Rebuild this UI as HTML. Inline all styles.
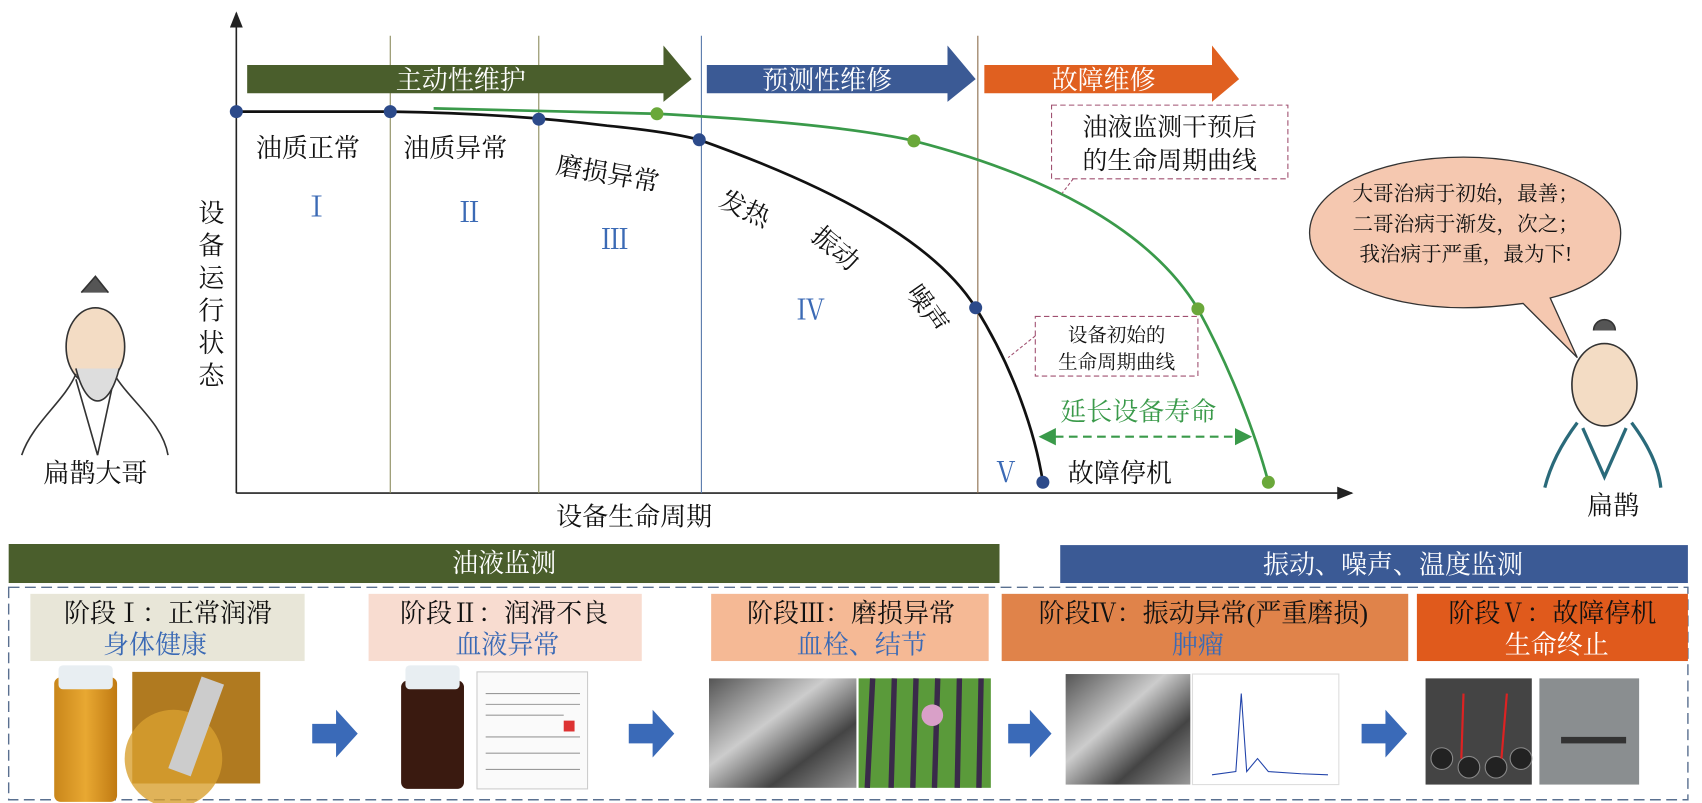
<!DOCTYPE html>
<html><head><meta charset="utf-8"><style>
html,body{margin:0;padding:0;background:#fff}
svg{display:block}
text{font-family:"Liberation Serif","Noto Serif CJK SC","Noto Sans CJK SC",serif}
</style></head><body>
<svg width="1702" height="803" viewBox="0 0 1570 741" preserveAspectRatio="none" xmlns="http://www.w3.org/2000/svg">
<defs>
<marker id="ah" markerWidth="10" markerHeight="8" refX="9" refY="4" orient="auto"><path d="M0,0 L10,4 L0,8 z" fill="#222"/></marker>
<marker id="ga" markerWidth="8" markerHeight="8" refX="7" refY="4" orient="auto"><path d="M0,0 L8,4 L0,8 z" fill="#3a9a4a"/></marker>
<marker id="gb" markerWidth="8" markerHeight="8" refX="1" refY="4" orient="auto"><path d="M8,0 L0,4 L8,8 z" fill="#3a9a4a"/></marker>
<linearGradient id="oil" x1="0" x2="1"><stop offset="0" stop-color="#c9861a"/><stop offset="0.5" stop-color="#e8a832"/><stop offset="1" stop-color="#c07a12"/></linearGradient>
<linearGradient id="metal" x1="0" x2="1" y1="0" y2="1"><stop offset="0" stop-color="#555"/><stop offset="0.4" stop-color="#ccc"/><stop offset="0.7" stop-color="#444"/><stop offset="1" stop-color="#999"/></linearGradient>
</defs>
<!-- axes -->
<line x1="218" y1="455" x2="218" y2="12" stroke="#222" stroke-width="1.5" marker-end="url(#ah)"/>
<line x1="218" y1="455" x2="1247" y2="455" stroke="#222" stroke-width="1.5" marker-end="url(#ah)"/>
<g stroke="#8a8a5a" stroke-width="1"><line x1="360" y1="33" x2="360" y2="455"/><line x1="497" y1="33" x2="497" y2="455"/></g>
<line x1="647" y1="33" x2="647" y2="455" stroke="#5577aa" stroke-width="1"/>
<line x1="902" y1="33" x2="902" y2="455" stroke="#8a6a4a" stroke-width="1"/>
<!-- top arrows -->
<path d="M228,60 H612 V42 L638,73 L612,94 V86 H228 Z" fill="#4a5e2c"/>
<path d="M652,60 H874 V42 L900,73 L874,94 V86 H652 Z" fill="#3b5a95"/>
<path d="M908,60 H1118 V42 L1143,73 L1118,94 V86 H908 Z" fill="#e06020"/>
<g fill="#fff" font-size="24" text-anchor="middle"><text x="425" y="82">主动性维护</text><text x="763" y="82">预测性维修</text><text x="1018" y="82">故障维修</text></g>
<!-- curves -->
<path d="M218,103 L360,103 C430,104 497,108 560,116 C600,120 630,125 645,129 C760,170 860,220 900,284 C935,340 955,400 962,445" fill="none" stroke="#111" stroke-width="2.5"/>
<path d="M400,100 C480,102 560,104 606,105 C700,110 790,118 843,130 C960,160 1060,210 1105,285 C1135,340 1158,400 1170,445" fill="none" stroke="#3a9a4a" stroke-width="2.5"/>
<g fill="#2c4a8a"><circle cx="218" cy="103" r="6"/><circle cx="360" cy="103" r="6"/><circle cx="497" cy="110" r="6"/><circle cx="645" cy="129" r="6"/><circle cx="900" cy="284" r="6"/><circle cx="962" cy="445" r="6"/></g>
<g fill="#6aa83a"><circle cx="606" cy="105" r="6"/><circle cx="843" cy="130" r="6"/><circle cx="1105" cy="285" r="6"/><circle cx="1170" cy="445" r="6"/></g>
<!-- labels in chart -->
<g font-size="24" fill="#111"><text x="236" y="145">油质正常</text><text x="372" y="145">油质异常</text><text transform="translate(512,160) rotate(10)">磨损异常</text>
<text transform="translate(662,190) rotate(25)">发热</text><text transform="translate(747,220) rotate(40)">振动</text><text transform="translate(835,270) rotate(55)">噪声</text>
<text x="985" y="445">故障停机</text></g>
<g font-size="26" fill="#3b6ab5" text-anchor="middle"><text x="292" y="200">Ⅰ</text><text x="433" y="205">Ⅱ</text><text x="567" y="230">Ⅲ</text><text x="748" y="295">Ⅳ</text><text x="928" y="445">Ⅴ</text></g>
<g font-size="24" fill="#111" text-anchor="middle"><text x="195" y="205">设</text><text x="195" y="235">备</text><text x="195" y="265">运</text><text x="195" y="295">行</text><text x="195" y="325">状</text><text x="195" y="355">态</text></g>
<text x="585" y="485" font-size="24" text-anchor="middle" fill="#111">设备生命周期</text>
<!-- callouts -->
<rect x="970" y="97" width="218" height="68" fill="#fff" stroke="#a05070" stroke-dasharray="5,3"/>
<path d="M990,165 L980,178" stroke="#a05070" stroke-dasharray="3,2"/>
<text x="1079" y="125" font-size="23" text-anchor="middle" fill="#111">油液监测干预后</text><text x="1079" y="156" font-size="23" text-anchor="middle" fill="#111">的生命周期曲线</text>
<rect x="955" y="292" width="150" height="55" fill="#fff" stroke="#a05070" stroke-dasharray="5,3"/>
<path d="M955,310 L930,330" stroke="#a05070" stroke-dasharray="3,2"/>
<text x="1030" y="315" font-size="18" text-anchor="middle" fill="#111">设备初始的</text><text x="1030" y="340" font-size="18" text-anchor="middle" fill="#111">生命周期曲线</text>
<text x="1050" y="388" font-size="24" text-anchor="middle" fill="#3a9a4a">延长设备寿命</text>
<line x1="960" y1="403" x2="1153" y2="403" stroke="#3a9a4a" stroke-width="2" stroke-dasharray="8,5" marker-end="url(#ga)" marker-start="url(#gb)"/>
<!-- speech bubble -->
<path d="M1350,145 C1430,145 1495,175 1495,215 C1495,245 1470,265 1430,275 L1455,330 L1405,280 C1390,282 1370,284 1350,284 C1270,284 1208,253 1208,215 C1208,175 1270,145 1350,145 Z" fill="#f5c8b0" stroke="#333" stroke-width="1.2"/>
<g font-size="19" fill="#111" text-anchor="middle"><text x="1352" y="185">大哥治病于初始，最善；</text><text x="1352" y="213">二哥治病于渐发，次之；</text><text x="1352" y="241">我治病于严重，最为下!</text></g>
<!-- figures -->
<g stroke="#333" stroke-width="1.5" fill="none">
<ellipse cx="88" cy="320" rx="27" ry="36" fill="#f3dcc4"/><path d="M75,270 L88,255 L100,270" fill="#555"/>
<path d="M70,345 C60,370 30,390 20,420 M105,345 C120,370 150,390 155,420 M70,350 L90,420 L105,350" />
<path d="M70,340 C80,380 100,380 110,340" fill="#ddd"/>
<ellipse cx="1480" cy="355" rx="30" ry="38" fill="#f3dcc4"/><path d="M1470,305 a10,10 0 1 1 20,0" fill="#555"/>
<path d="M1455,390 C1440,410 1430,430 1425,450 M1505,390 C1520,410 1530,430 1532,450 M1460,395 L1480,440 L1500,395" stroke="#2a6a7a" stroke-width="3"/>
</g>
<text x="88" y="445" font-size="24" text-anchor="middle" fill="#111">扁鹊大哥</text>
<text x="1488" y="475" font-size="24" text-anchor="middle" fill="#111">扁鹊</text>
<!-- bottom bars -->
<rect x="8" y="502" width="914" height="36" fill="#4a5e2c"/>
<text x="465" y="528" font-size="24" fill="#fff" text-anchor="middle">油液监测</text>
<rect x="978" y="503" width="579" height="35" fill="#3b5a95"/>
<text x="1285" y="529" font-size="24" fill="#fff" text-anchor="middle">振动、噪声、温度监测</text>
<rect x="8" y="542" width="1549" height="196" fill="none" stroke="#5a7090" stroke-width="1.3" stroke-dasharray="10,5"/>
<!-- stage boxes -->
<rect x="28" y="548" width="253" height="62" fill="#e8e6d8"/>
<rect x="340" y="548" width="252" height="62" fill="#f8dcd0"/>
<rect x="656" y="548" width="256" height="62" fill="#f5b995"/>
<rect x="924" y="548" width="375" height="62" fill="#e0834a"/>
<rect x="1307" y="548" width="250" height="62" fill="#e05a1c"/>
<g font-size="24" text-anchor="middle">
<text x="155" y="574" fill="#111">阶段Ⅰ：正常润滑</text><text x="143" y="603" fill="#3b6ab5">身体健康</text>
<text x="465" y="574" fill="#111">阶段Ⅱ：润滑不良</text><text x="468" y="603" fill="#3b6ab5">血液异常</text>
<text x="785" y="574" fill="#111">阶段Ⅲ：磨损异常</text><text x="795" y="603" fill="#3b6ab5">血栓、结节</text>
<text x="1110" y="574" fill="#111">阶段Ⅳ：振动异常(严重磨损)</text><text x="1105" y="603" fill="#3b6ab5">肿瘤</text>
<text x="1432" y="574" fill="#111">阶段Ⅴ：故障停机</text><text x="1436" y="603" fill="#fff">生命终止</text>
</g>
<!-- images -->
<rect x="50" y="625" width="58" height="115" rx="6" fill="url(#oil)"/><rect x="54" y="614" width="50" height="22" rx="4" fill="#e8eef2"/>
<rect x="122" y="620" width="118" height="103" fill="#b07a20"/><circle cx="160" cy="700" r="45" fill="#d8a030" opacity="0.8"/><rect x="170" y="625" width="22" height="90" fill="#ccc" transform="rotate(20 180 670)"/>
<rect x="370" y="628" width="58" height="100" rx="6" fill="#3a1a10"/><rect x="374" y="614" width="50" height="22" rx="4" fill="#e8eef2"/>
<rect x="440" y="620" width="102" height="108" fill="#fafafa" stroke="#ccc"/>
<g stroke="#999" stroke-width="1"><line x1="448" y1="640" x2="535" y2="640"/><line x1="448" y1="650" x2="535" y2="650"/><line x1="448" y1="660" x2="520" y2="660"/><line x1="448" y1="680" x2="535" y2="680"/><line x1="448" y1="695" x2="535" y2="695"/><line x1="448" y1="710" x2="535" y2="710"/></g>
<rect x="520" y="665" width="10" height="10" fill="#d33"/>
<rect x="654" y="626" width="136" height="101" fill="url(#metal)"/>
<rect x="792" y="626" width="122" height="101" fill="#5a9a3a"/>
<g stroke="#3a2a4a" stroke-width="5"><line x1="805" y1="626" x2="800" y2="727"/><line x1="825" y1="626" x2="822" y2="727"/><line x1="845" y1="626" x2="842" y2="727"/><line x1="865" y1="626" x2="862" y2="727"/><line x1="885" y1="626" x2="883" y2="727"/><line x1="905" y1="626" x2="903" y2="727"/></g>
<circle cx="860" cy="660" r="10" fill="#d9a0c8"/>
<rect x="983" y="622" width="115" height="102" fill="url(#metal)"/>
<rect x="1100" y="622" width="135" height="102" fill="#fff" stroke="#ddd"/>
<path d="M1118,715 L1140,712 L1145,640 L1150,712 L1160,700 L1170,712 L1200,714 L1225,715" stroke="#2244aa" fill="none"/>
<rect x="1315" y="626" width="98" height="98" fill="#444"/><g fill="#222" stroke="#888"><circle cx="1330" cy="700" r="10"/><circle cx="1355" cy="708" r="10"/><circle cx="1380" cy="708" r="10"/><circle cx="1403" cy="700" r="10"/></g>
<line x1="1350" y1="640" x2="1348" y2="700" stroke="#d22" stroke-width="2"/><line x1="1390" y1="640" x2="1385" y2="700" stroke="#d22" stroke-width="2"/>
<rect x="1420" y="626" width="92" height="98" fill="#8a8e90"/><rect x="1440" y="680" width="60" height="6" fill="#333"/>
<!-- blue arrows -->
<g fill="#3a6ab8">
<path d="M288,668 H310 V655 L330,677 L310,699 V686 H288 Z"/>
<path d="M580,668 H602 V655 L622,677 L602,699 V686 H580 Z"/>
<path d="M930,668 H950 V655 L970,677 L950,699 V686 H930 Z"/>
<path d="M1256,668 H1278 V655 L1298,677 L1278,699 V686 H1256 Z"/>
</g>
</svg>
</body></html>
